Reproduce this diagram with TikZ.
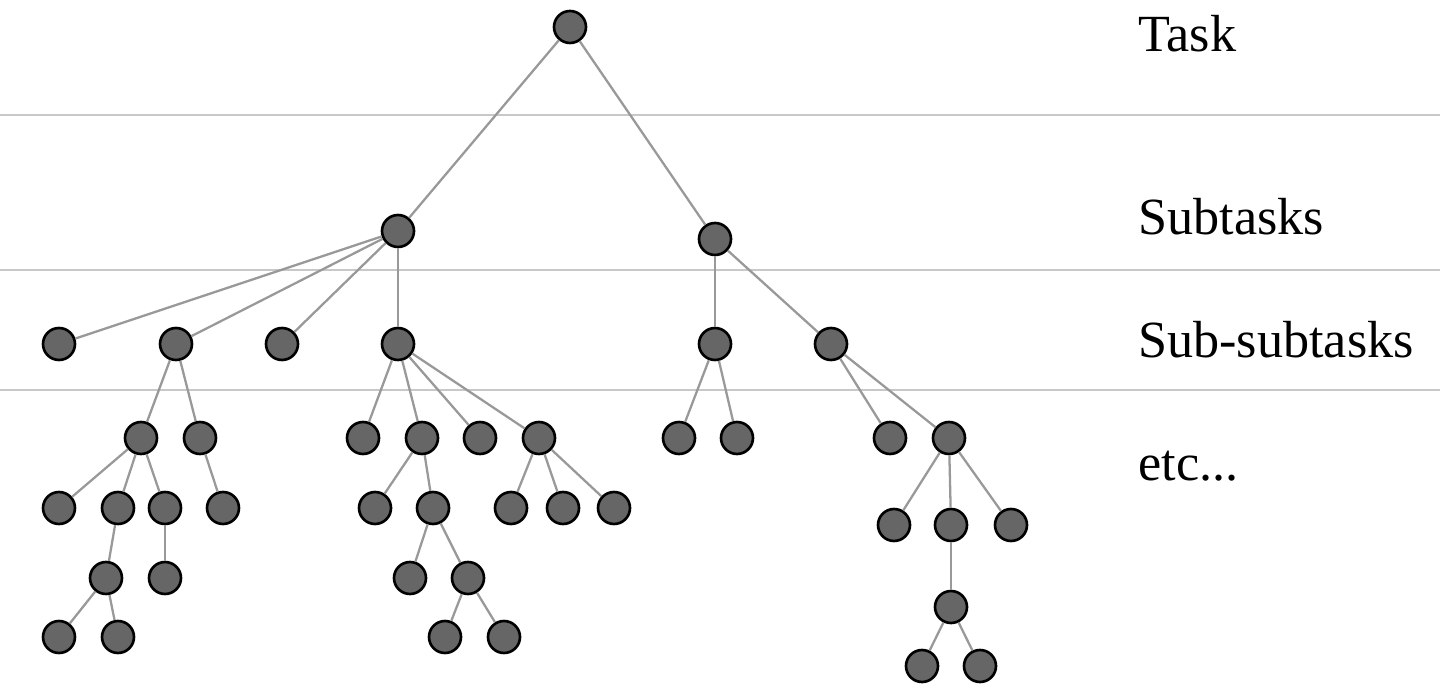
\documentclass[tikz,border=0pt]{standalone}
\usepackage{fontspec}
\setmainfont{Liberation Serif}
\newfontfamily\ebenefont{Liberation Serif}
\definecolor{knotenfill}{HTML}{666666}
\definecolor{kante}{HTML}{999999}
\definecolor{trenn}{HTML}{C8C8C8}
\tikzset{
  knoten/.style={circle, draw=black, line width=1.5pt, fill=knotenfill, minimum size=0.64cm, inner sep=0pt},
  kantelinie/.style={draw=kante, line width=1.3pt},
  ebene/.style={anchor=base west, inner sep=0pt, font=\ebenefont\fontsize{29.7}{36}\selectfont}
}
\begin{document}
\begin{tikzpicture}[x=0.02cm, y=-0.02cm]
		\useasboundingbox (0,0) rectangle (1456,685);
		% Trennlinien
		\draw[trenn, line width=1.3pt] (0,115) -- (1440,115);
		\draw[trenn, line width=1.3pt] (0,270) -- (1440,270);
		\draw[trenn, line width=1.3pt] (0,390) -- (1440,390);
		% Ebenen
		\node[ebene] (lTask) at (1138,52) {Task};
		\node[ebene] (lSub) at (1138,235) {Subtasks};
		\node[ebene] (lSubSub) at (1138,358) {Sub-subtasks};
		\node[ebene] (lEtc) at (1138,480) {etc...};
		% Wurzel und Teilaufgaben
		\node[knoten] (root) at (570,27) {};
		\node[knoten] (a) at (398,231) {};
		\node[knoten] (b) at (715,239) {};
		% Ebene 3
		\node[knoten] (a1) at (59,344) {};
		\node[knoten] (a2) at (176,344) {};
		\node[knoten] (a3) at (282,344) {};
		\node[knoten] (a4) at (398,344) {};
		\node[knoten] (b1) at (715,344) {};
		\node[knoten] (b2) at (831,344) {};
		% Ebene 4
		\node[knoten] (a21) at (141,438) {};
		\node[knoten] (a22) at (200,438) {};
		\node[knoten] (a41) at (363,438) {};
		\node[knoten] (a42) at (422,438) {};
		\node[knoten] (a43) at (480,438) {};
		\node[knoten] (a44) at (539,438) {};
		\node[knoten] (b11) at (679,438) {};
		\node[knoten] (b12) at (737,438) {};
		\node[knoten] (b21) at (890,438) {};
		\node[knoten] (b22) at (949,438) {};
		% Ebene 5
		\node[knoten] (a211) at (59,508) {};
		\node[knoten] (a212) at (118,508) {};
		\node[knoten] (a213) at (165,508) {};
		\node[knoten] (a221) at (223,508) {};
		\node[knoten] (a421) at (375,508) {};
		\node[knoten] (a422) at (433,508) {};
		\node[knoten] (a441) at (511,508) {};
		\node[knoten] (a442) at (563,508) {};
		\node[knoten] (a443) at (614,508) {};
		\node[knoten] (b221) at (894,525) {};
		\node[knoten] (b222) at (951,525) {};
		\node[knoten] (b223) at (1011,525) {};
		% Ebene 6
		\node[knoten] (a2121) at (106,578) {};
		\node[knoten] (a2131) at (165,578) {};
		\node[knoten] (a4221) at (410,578) {};
		\node[knoten] (a4222) at (468,578) {};
		\node[knoten] (b2221) at (951,607) {};
		% Ebene 7
		\node[knoten] (a21211) at (59,637) {};
		\node[knoten] (a21212) at (118,637) {};
		\node[knoten] (a42221) at (445,637) {};
		\node[knoten] (a42222) at (504,637) {};
		\node[knoten] (b22211) at (922,666) {};
		\node[knoten] (b22212) at (980,666) {};
		% Kanten
		\draw[kantelinie] (root) -- (a);
		\draw[kantelinie] (root) -- (b);
		\draw[kantelinie] (a) -- (a1);
		\draw[kantelinie] (a) -- (a2);
		\draw[kantelinie] (a) -- (a3);
		\draw[kantelinie] (a) -- (a4);
		\draw[kantelinie] (b) -- (b1);
		\draw[kantelinie] (b) -- (b2);
		\draw[kantelinie] (a2) -- (a21);
		\draw[kantelinie] (a2) -- (a22);
		\draw[kantelinie] (a4) -- (a41);
		\draw[kantelinie] (a4) -- (a42);
		\draw[kantelinie] (a4) -- (a43);
		\draw[kantelinie] (a4) -- (a44);
		\draw[kantelinie] (b1) -- (b11);
		\draw[kantelinie] (b1) -- (b12);
		\draw[kantelinie] (b2) -- (b21);
		\draw[kantelinie] (b2) -- (b22);
		\draw[kantelinie] (a21) -- (a211);
		\draw[kantelinie] (a21) -- (a212);
		\draw[kantelinie] (a21) -- (a213);
		\draw[kantelinie] (a22) -- (a221);
		\draw[kantelinie] (a42) -- (a421);
		\draw[kantelinie] (a42) -- (a422);
		\draw[kantelinie] (a44) -- (a441);
		\draw[kantelinie] (a44) -- (a442);
		\draw[kantelinie] (a44) -- (a443);
		\draw[kantelinie] (b22) -- (b221);
		\draw[kantelinie] (b22) -- (b222);
		\draw[kantelinie] (b22) -- (b223);
		\draw[kantelinie] (a212) -- (a2121);
		\draw[kantelinie] (a213) -- (a2131);
		\draw[kantelinie] (a422) -- (a4221);
		\draw[kantelinie] (a422) -- (a4222);
		\draw[kantelinie] (b222) -- (b2221);
		\draw[kantelinie] (a2121) -- (a21211);
		\draw[kantelinie] (a2121) -- (a21212);
		\draw[kantelinie] (a4222) -- (a42221);
		\draw[kantelinie] (a4222) -- (a42222);
		\draw[kantelinie] (b2221) -- (b22211);
		\draw[kantelinie] (b2221) -- (b22212);
	\end{tikzpicture}
\end{document}
